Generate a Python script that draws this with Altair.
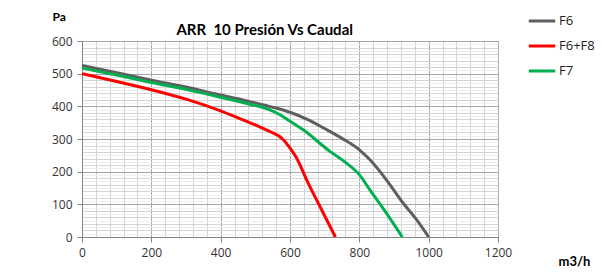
import altair as alt
import pandas as pd

series = ["F6", "F6+F8", "F7"]
colors = ["#5f5f5f", "#ff0000", "#00b050"]

f6_caudal = [0, 100, 200, 300, 390, 470, 540, 600, 650, 700, 750, 800, 830, 878, 926, 965, 1000]
f6_presion = [525, 503, 480, 459, 437, 418, 400, 382, 360, 332, 302, 267, 237, 175, 104, 53, 0]

f6f8_caudal = [0, 100, 200, 300, 390, 450, 500, 542, 581, 600, 619, 648, 686, 731]
f6f8_presion = [500, 476, 451, 422, 390, 365, 343, 323, 298, 272, 242, 175, 94, 0]

f7_caudal = [0, 100, 200, 300, 390, 470, 540, 570, 600, 638, 715, 763, 800, 830, 878, 924]
f7_presion = [517, 496, 473, 452, 430, 410, 390, 375, 354, 328, 262, 226, 191, 145, 73, 0]

x_grid = list(range(0, 1201, 40))
y_grid = list(range(0, 601, 10))

rows = []
for name, xs, ys in [("F6", f6_caudal, f6_presion),
                     ("F6+F8", f6f8_caudal, f6f8_presion),
                     ("F7", f7_caudal, f7_presion)]:
    for i, (a, b) in enumerate(zip(xs, ys)):
        rows.append({"serie": name, "caudal": a, "presion": b, "orden": i})
df = pd.DataFrame(rows)

FONT = "Open Sans"
TITLE_FONT = "Lato"

x_axis = alt.Axis(
    values=x_grid,
    format="d",
    labelExpr="datum.value % 200 === 0 ? datum.label : ''",
    labelOverlap=False,
    labelFlush=False,
    labelFont=FONT,
    labelFontSize=12,
    labelColor="#333333",
    labelPadding=5,
    tickSize=5,
    tickColor="#868686",
    tickOpacity={"condition": {"test": "datum.value % 200 === 0", "value": 1}, "value": 0},
    gridColor={"condition": {"test": "datum.value % 200 === 0", "value": "#a6a6a6"}, "value": "#d0d0d0"},
    gridWidth=1,
    domainColor="#868686",
    title="m3/h",
    titleFont=TITLE_FONT,
    titleFontSize=13,
    titleFontWeight="bold",
    titleColor="#000000",
    titleAngle=0,
    titleAlign="left",
    titleBaseline="middle",
    titleX=476,
    titleY=24,
)

y_axis = alt.Axis(
    values=y_grid,
    format="d",
    labelExpr="datum.value % 100 === 0 ? datum.label : ''",
    labelOverlap=False,
    labelFlush=False,
    labelFont=FONT,
    labelFontSize=12,
    labelColor="#333333",
    labelPadding=5,
    tickSize=5,
    tickColor="#868686",
    tickOpacity={"condition": {"test": "datum.value % 100 === 0", "value": 1}, "value": 0},
    gridColor={"condition": [
        {"test": "datum.value % 100 === 0", "value": "#a6a6a6"},
        {"test": "datum.value % 20 === 0", "value": "#d6d6d6"}],
        "value": "#eeeeee"},
    gridWidth=1,
    domainColor="#868686",
    title="Pa",
    titleFont=TITLE_FONT,
    titleFontSize=12,
    titleFontWeight="bold",
    titleColor="#000000",
    titleAngle=0,
    titleAlign="left",
    titleBaseline="middle",
    titleX=-30,
    titleY=-25,
)

chart = alt.Chart(df).mark_line(strokeWidth=3, interpolate="monotone").encode(
    x=alt.X("caudal:Q", scale=alt.Scale(domain=[0, 1200], nice=False), axis=x_axis),
    y=alt.Y("presion:Q", scale=alt.Scale(domain=[0, 600], nice=False), axis=y_axis),
    color=alt.Color(
        "serie:N",
        scale=alt.Scale(domain=series, range=colors),
        legend=alt.Legend(
            title=None,
            orient="none",
            legendX=445,
            legendY=-35,
            symbolType="stroke",
            symbolSize=700,
            symbolStrokeWidth=3,
            labelFont=FONT,
            labelFontSize=13,
            labelColor="#222222",
            labelOffset=2,
            rowPadding=3,
        ),
    ),
    order="orden:Q",
).properties(
    width=416,
    height=196,
    title=alt.TitleParams(
        "ARR\u00a0 10 Presión Vs Caudal",
        anchor="start",
        dx=125,
        dy=52,
        offset=8,
        font=TITLE_FONT,
        fontSize=15,
        fontWeight="bold",
        color="#000000",
        baseline="alphabetic",
    ),
    autosize=alt.AutoSizeParams(type="none"),
    padding={"left": 74, "top": 33, "right": 97, "bottom": 32},
).configure_view(stroke=None).configure(background="white")

chart.save("out.html", embed_options={"renderer": "svg", "actions": False})
